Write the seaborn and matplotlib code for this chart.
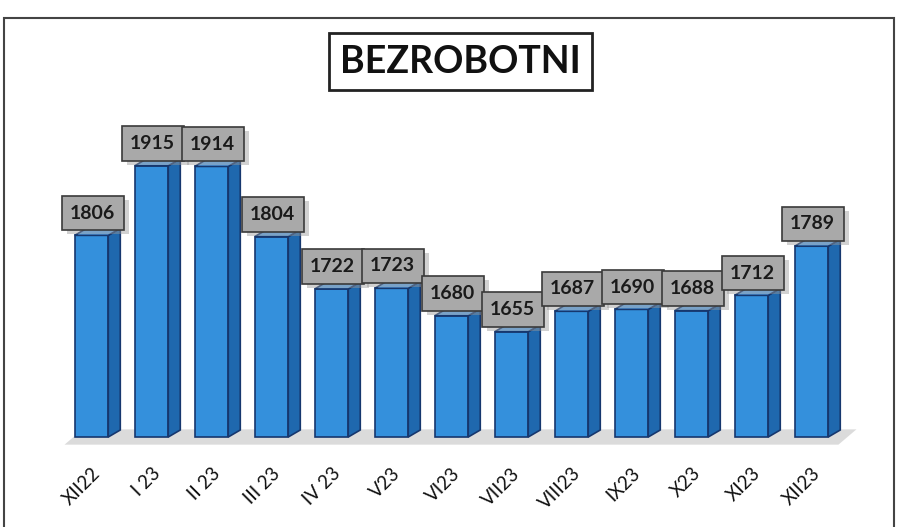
import matplotlib
matplotlib.use("Agg")
import matplotlib.pyplot as plt
import seaborn as sns
import pandas as pd
from matplotlib.patches import Polygon, Rectangle
from matplotlib.transforms import offset_copy

months = ["XII22", "I 23", "II 23", "III 23", "IV 23", "V23", "VI23",
          "VII23", "VIII23", "IX23", "X23", "XI23", "XII23"]
unemployed = [1806, 1915, 1914, 1804, 1722, 1723, 1680, 1655, 1687, 1690, 1688, 1712, 1789]
title_text = "BEZROBOTNI"

df = pd.DataFrame({"month": months, "value": unemployed})

sns.set_theme(style="white")
plt.rcParams['font.family'] = ['Lato', 'DejaVu Sans']

fig = plt.figure(figsize=(8.99, 5.27), dpi=100)
ax = fig.add_axes([0.0684, 0.1526, 0.8676, 0.6357])

FRONT = "#3490dc"
SIDE = "#1f68ae"
TOP = "#5eaaee"
EDGE = "#16376e"

sns.barplot(data=df, x="month", y="value", color=FRONT, width=0.56,
            saturation=1, edgecolor=EDGE, linewidth=1.2, ax=ax, zorder=3)

base = 1490
ax.set_ylim(1475, 2000)
ax.set_xlim(-0.5, 12.5)

dx, dy = 0.2, 11

# floor
floor = Polygon([(-0.45, 1478), (12.45, 1478), (12.75, 1502), (-0.15, 1502)],
                closed=True, facecolor="#d3d3d3", edgecolor="none", alpha=0.8,
                zorder=1, clip_on=False)
ax.add_patch(floor)

for p, v in zip(ax.patches[:len(unemployed)], unemployed):
    x = p.get_x(); w = p.get_width()
    p.set_y(base); p.set_height(v - base)
    side = Polygon([(x + w, base), (x + w + dx, base + dy), (x + w + dx, v + dy), (x + w, v)],
                   closed=True, facecolor=SIDE, edgecolor=EDGE, linewidth=1.2,
                   zorder=3, clip_on=False)
    top = Polygon([(x, v), (x + dx, v + dy), (x + w + dx, v + dy), (x + w, v)],
                  closed=True, facecolor=TOP, edgecolor=EDGE, linewidth=1.2,
                  zorder=3, clip_on=False)
    ax.add_patch(side); ax.add_patch(top)

bw, bh = 1.03, 54
for i, v in enumerate(unemployed):
    cx = i + 0.02
    y0 = v + dy - 3
    sh = offset_copy(ax.transData, fig=fig, x=5, y=-4, units='dots')
    ax.add_patch(Rectangle((cx - bw / 2, y0), bw, bh, transform=sh,
                           facecolor="#9a9a9a", edgecolor="none", alpha=0.45,
                           zorder=4, clip_on=False))
    ax.add_patch(Rectangle((cx - bw / 2, y0), bw, bh, facecolor="#a9a9a9",
                           edgecolor="#3a3a3a", linewidth=1.2, zorder=5, clip_on=False))
    ax.text(cx, y0 + bh / 2, str(v), ha="center", va="center",
            fontsize=14, fontweight="bold", color="#1a1a1a", zorder=6)

ax.set_xlabel(""); ax.set_ylabel("")
ax.set_yticks([])
ax.set_xticks(range(len(months)))
ax.set_xticklabels(months, rotation=45, ha="right", rotation_mode="anchor",
                   fontsize=13.5, color="#111111")
ax.tick_params(axis="x", length=0, pad=13)
for s in ax.spines.values():
    s.set_visible(False)
ax.set_facecolor("none")

# title box
fig.text(0.512, 0.883, title_text, ha="center", va="center", fontsize=27,
         fontweight="bold", color="#111111",
         bbox=dict(boxstyle="square,pad=0.3", fc="white", ec="#222222", lw=2))

# outer frame
fig.patches.append(Rectangle((4 / 899, -4 / 527), 890 / 899, 513 / 527,
                             transform=fig.transFigure, fill=False,
                             edgecolor="#444444", linewidth=1.5))

fig.savefig("out.png", dpi=100)
